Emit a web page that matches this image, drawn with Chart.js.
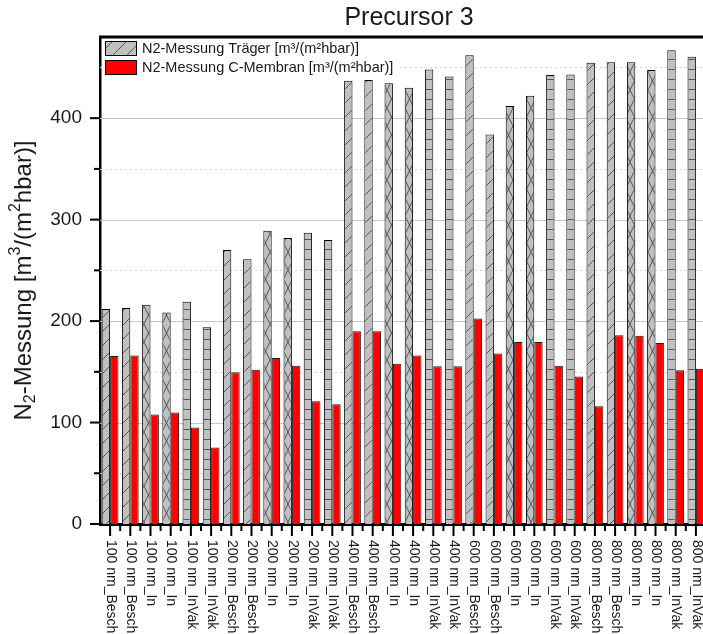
<!DOCTYPE html>
<html>
<head>
<meta charset="utf-8">
<title>Precursor 3</title>
<script src="https://cdn.jsdelivr.net/npm/chart.js@4.4.1/dist/chart.umd.min.js"></script>
<style>
  html, body { margin: 0; padding: 0; background: #fff; overflow: hidden; }
  #wrap { width: 706px; height: 634px; }
</style>
</head>
<body>
<div id="wrap"><canvas id="myChart" width="706" height="634"></canvas></div>
<script>
const labels = [
  '100 nm_Besch', '100 nm_Besch', '100 nm_In', '100 nm_In', '100 nm_InVak', '100 nm_InVak',
  '200 nm_Besch', '200 nm_Besch', '200 nm_In', '200 nm_In', '200 nm_InVak', '200 nm_InVak',
  '400 nm_Besch', '400 nm_Besch', '400 nm_In', '400 nm_In', '400 nm_InVak', '400 nm_InVak',
  '600 nm_Besch', '600 nm_Besch', '600 nm_In', '600 nm_In', '600 nm_InVak', '600 nm_InVak',
  '800 nm_Besch', '800 nm_Besch', '800 nm_In', '800 nm_In', '800 nm_InVak', '800 nm_InVak',
];

// Träger (support) and C-membrane N2 permeance
const traegerValues = [
  212, 213, 216, 208.5, 219, 194,
  270, 261, 289, 282, 287, 280,
  437, 437.5, 434.5, 430, 448, 441,
  462, 384, 412, 422, 442.5, 443,
  454.5, 455, 455, 447.5, 467, 460.5,
];
const membranValues = [
  165.5, 166, 108, 110, 95, 75.5,
  149.5, 152, 163.5, 156, 121, 118,
  190, 190, 158, 166, 155.5, 155.5,
  202.5, 168, 179.5, 179.5, 156, 145.5,
  116, 186, 185.5, 178.5, 151.5, 153,
];

const yMax = 480;
const yMajorStep = 100;
const yMinorStep = 50;

const FONT = "'Liberation Sans', Arial, sans-serif";
const INK = '#1a1a1a';

// hatch fills for the grey bars, one per treatment type
function makeHatch(kind) {
  const c = document.createElement('canvas');
  const w = kind === 'diag' ? 14 : (kind === 'cross' ? 9 : 8);
  const h = kind === 'diag' ? 14 : (kind === 'cross' ? 18 : 10);
  c.width = w;
  c.height = h;
  const g = c.getContext('2d');
  g.fillStyle = '#c0c0c0';
  g.fillRect(0, 0, w, h);
  g.strokeStyle = '#3a3a3a';
  g.lineWidth = 0.8;
  g.beginPath();
  if (kind === 'diag') {
    g.moveTo(0, h); g.lineTo(w, 0);
    g.moveTo(-1, 1); g.lineTo(1, -1);
    g.moveTo(w - 1, h + 1); g.lineTo(w + 1, h - 1);
  } else if (kind === 'cross') {
    g.moveTo(0, 0); g.lineTo(w, h);
    g.moveTo(0, h); g.lineTo(w, 0);
  } else {
    g.moveTo(0, h - 0.5); g.lineTo(w, h - 0.5);
  }
  g.stroke();
  return g.createPattern(c, 'repeat');
}

const hatches = {
  diag: makeHatch('diag'),
  cross: makeHatch('cross'),
  horiz: makeHatch('horiz'),
};

function hatchFor(label) {
  if (label.endsWith('_InVak')) return hatches.horiz;
  if (label.endsWith('_In')) return hatches.cross;
  return hatches.diag;
}

// grid lines behind the bars, frame, ticks, texts and legend on top
const decorations = {
  id: 'decorations',
  beforeDatasetsDraw(chart) {
    const { ctx, chartArea: a, scales: { y } } = chart;
    ctx.save();
    for (let v = yMinorStep; v < yMax; v += yMinorStep) {
      const py = Math.round(y.getPixelForValue(v)) + 0.5;
      const major = v % yMajorStep === 0;
      ctx.strokeStyle = major ? '#c6c6c6' : '#d4d4d4';
      ctx.lineWidth = 1;
      ctx.setLineDash(major ? [] : [2, 3]);
      ctx.beginPath();
      ctx.moveTo(a.left, py);
      ctx.lineTo(a.right, py);
      ctx.stroke();
    }
    ctx.restore();
  },
  afterDraw(chart) {
    const { ctx, chartArea: a, scales: { x, y } } = chart;
    ctx.save();

    // top frame line
    ctx.strokeStyle = '#000';
    ctx.lineWidth = 3;
    ctx.beginPath();
    ctx.moveTo(a.left - 1, a.top);
    ctx.lineTo(a.right + 2, a.top);
    ctx.stroke();

    // y ticks, major and minor
    ctx.lineWidth = 2;
    for (let v = 0; v <= yMax - yMinorStep; v += yMinorStep) {
      const py = y.getPixelForValue(v);
      const len = v % yMajorStep === 0 ? 10 : 6;
      ctx.beginPath();
      ctx.moveTo(a.left, py);
      ctx.lineTo(a.left - len, py);
      ctx.stroke();
    }
    // x ticks: long at each category, short between categories
    const step = (a.right - a.left) / labels.length;
    for (let i = 0; i < labels.length; i++) {
      const px = x.getPixelForTick(i);
      ctx.beginPath();
      ctx.moveTo(px, a.bottom);
      ctx.lineTo(px, a.bottom + 12);
      ctx.stroke();
      const bx = px - step / 2;
      if (i > 0) {
        ctx.beginPath();
        ctx.moveTo(bx, a.bottom);
        ctx.lineTo(bx, a.bottom + 7);
        ctx.stroke();
      }
    }

    // rotated category labels, reading downwards
    ctx.fillStyle = INK;
    ctx.font = '14px ' + FONT;
    ctx.textAlign = 'left';
    ctx.textBaseline = 'middle';
    labels.forEach((lab, i) => {
      const px = x.getPixelForTick(i);
      ctx.save();
      ctx.translate(px + 0.5, a.bottom + 16);
      ctx.rotate(Math.PI / 2);
      ctx.fillText(lab, 0, 0);
      ctx.restore();
    });

    // y axis title with sub- and superscripts
    const parts = [
      { t: 'N', s: 24, dy: 0 },
      { t: '2', s: 16, dy: 7 },
      { t: '-Messung [m', s: 24, dy: 0 },
      { t: '3', s: 16, dy: -8 },
      { t: '/(m', s: 24, dy: 0 },
      { t: '2', s: 16, dy: -8 },
      { t: 'hbar)]', s: 24, dy: 0 },
    ];
    let total = 0;
    parts.forEach(p => {
      ctx.font = p.s + 'px ' + FONT;
      p.w = ctx.measureText(p.t).width;
      total += p.w;
    });
    ctx.save();
    ctx.translate(24, (a.top + a.bottom) / 2);
    ctx.rotate(-Math.PI / 2);
    let tx = -total / 2;
    parts.forEach(p => {
      ctx.font = p.s + 'px ' + FONT;
      ctx.fillText(p.t, tx, p.dy);
      tx += p.w;
    });
    ctx.restore();

    // chart title
    ctx.font = '25px ' + FONT;
    ctx.textAlign = 'center';
    ctx.fillText('Precursor 3', 409, 18);

    // legend inside the plot, top left
    const ds = chart.data.datasets;
    ctx.font = '14.5px ' + FONT;
    ctx.textAlign = 'left';
    const textW = Math.max(...ds.map(d => ctx.measureText(d.label).width));
    ctx.fillStyle = '#fff';
    ctx.fillRect(a.left + 2, a.top + 2, 44 + textW, 40);
    const swatchFills = [hatches.diag, '#ff0000'];
    ds.forEach((d, i) => {
      const top = a.top + 4 + i * 19;
      ctx.fillStyle = swatchFills[i];
      ctx.fillRect(a.left + 5, top, 32, 15);
      ctx.strokeStyle = '#000';
      ctx.lineWidth = 1;
      ctx.strokeRect(a.left + 5.5, top + 0.5, 31, 14);
      ctx.fillStyle = INK;
      ctx.fillText(d.label, a.left + 42, top + 8);
    });

    ctx.restore();
  },
};

const ctx = document.getElementById('myChart').getContext('2d');

const myChart = new Chart(ctx, {
  type: 'bar',
  data: {
    labels,
    datasets: [
      {
        label: 'N2-Messung Träger [m³/(m²hbar)]',
        data: traegerValues,
        backgroundColor: labels.map(hatchFor),
        borderColor: '#000',
        borderWidth: 1,
        categoryPercentage: 0.83,
        barPercentage: 1,
      },
      {
        label: 'N2-Messung C-Membran [m³/(m²hbar)]',
        data: membranValues,
        backgroundColor: '#ff0000',
        borderColor: '#1a1a1a',
        borderWidth: 1,
        categoryPercentage: 0.83,
        barPercentage: 1,
      },
    ],
  },
  options: {
    responsive: false,
    animation: false,
    layout: { padding: { top: 37, left: 0, right: 0, bottom: 0 } },
    plugins: {
      legend: { display: false },
      title: { display: false },
      tooltip: { enabled: false },
    },
    scales: {
      x: {
        grid: { display: false, drawTicks: false },
        ticks: { display: false },
        border: { color: '#000', width: 3 },
        afterFit(scale) { scale.height = 110; },
      },
      y: {
        min: 0,
        max: yMax,
        ticks: {
          stepSize: yMajorStep,
          includeBounds: false,
          padding: 8,
          color: INK,
          font: { family: FONT, size: 19 },
        },
        grid: { display: false, drawTicks: true, tickLength: 10 },
        border: { color: '#000', width: 2.5 },
        afterFit(scale) { scale.width = 100; },
      },
    },
  },
  plugins: [decorations],
});
</script>
</body>
</html>
